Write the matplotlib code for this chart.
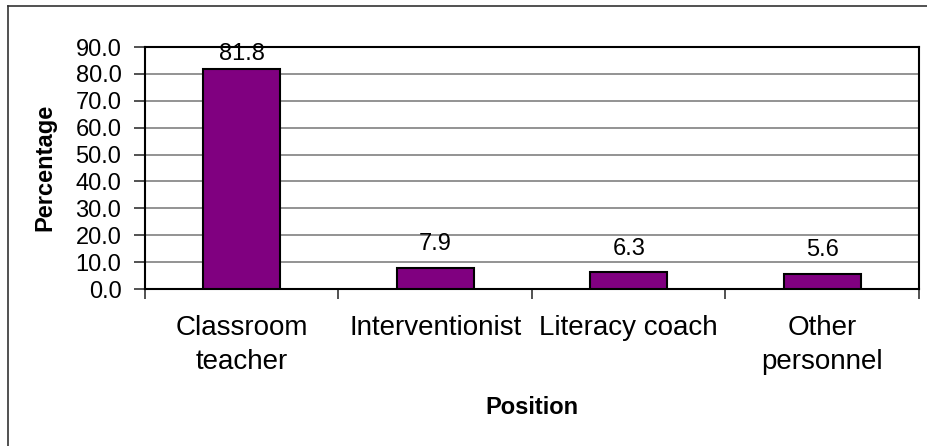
import matplotlib
matplotlib.use("Agg")
import matplotlib.pyplot as plt
from matplotlib.lines import Line2D
import numpy as np

plt.rcParams['font.family'] = ['Liberation Sans', 'DejaVu Sans']

categories = ["Classroom\nteacher", "Interventionist", "Literacy coach", "Other\npersonnel"]
percentages = [81.8, 7.9, 6.3, 5.6]
y_ticks = [0, 10, 20, 30, 40, 50, 60, 70, 80, 90]

W, H = 928, 446
fig = plt.figure(figsize=(W / 100, H / 100), dpi=100)
fig.patch.set_facecolor("white")

# plot area in pixel terms
left_px, right_px, top_px, bottom_px = 145, 919, 47, 289
ax = fig.add_axes([left_px / W, 1 - bottom_px / H,
                   (right_px - left_px) / W, (bottom_px - top_px) / H])

x = np.arange(len(categories))
ax.bar(x, percentages, width=0.4, color="#800080", edgecolor="black",
       linewidth=1.5, zorder=3)

ax.set_xlim(-0.5, len(categories) - 0.5)
ax.set_ylim(0, y_ticks[-1])

# value labels sit above each bar; a label that would poke out of the plot
# area is tucked in under the top edge instead
label_pts = 9
label_h_pts = 17
px_per_unit = (bottom_px - top_px) / y_ticks[-1]
for xi, v in zip(x, percentages):
    needed = v + (label_pts + label_h_pts) * (100 / 72) / px_per_unit
    if needed > y_ticks[-1]:
        ax.annotate(f"{v:.1f}", (xi, y_ticks[-1]), xytext=(0, 3),
                    textcoords="offset points", ha="center", va="top",
                    fontsize=17, color="black", annotation_clip=False, zorder=4)
    else:
        ax.annotate(f"{v:.1f}", (xi, v), xytext=(0, label_pts),
                    textcoords="offset points", ha="center", va="bottom",
                    fontsize=17, color="black", annotation_clip=False, zorder=4)

ax.set_yticks(y_ticks)
ax.set_yticklabels([f"{t:.1f}" for t in y_ticks], fontsize=17)
ax.yaxis.grid(True, color="#808080", linewidth=1.2, zorder=0)
ax.set_axisbelow(True)

ax.set_xticks(x)
ax.set_xticklabels(categories, fontsize=20, linespacing=1.38)
ax.set_xticks(np.arange(-0.5, len(categories), 1.0), minor=True)
ax.tick_params(axis="x", which="major", length=0, pad=19)
ax.tick_params(axis="x", which="minor", length=7, width=1.2, color="#333333")
ax.tick_params(axis="y", length=8, width=1.2, pad=9, color="#333333")

for side in ["left", "right", "top", "bottom"]:
    ax.spines[side].set_color("black")
    ax.spines[side].set_linewidth(1.5)

fig.text(45 / W, 1 - 167 / H, "Percentage", rotation=90, ha="center",
         va="center", fontsize=17, fontweight="bold")
fig.text(532 / W, 1 - 408 / H, "Position", ha="center", va="center",
         fontsize=17, fontweight="bold")

# chart border (left and top edges)
fig.add_artist(Line2D([8 / W, 8 / W], [0, 1 - 5.5 / H], transform=fig.transFigure,
                      color="#333333", linewidth=1.2))
fig.add_artist(Line2D([8 / W, 1], [1 - 5.5 / H, 1 - 5.5 / H], transform=fig.transFigure,
                      color="#333333", linewidth=1.2))

fig.savefig("out.png", dpi=100, facecolor="white")
